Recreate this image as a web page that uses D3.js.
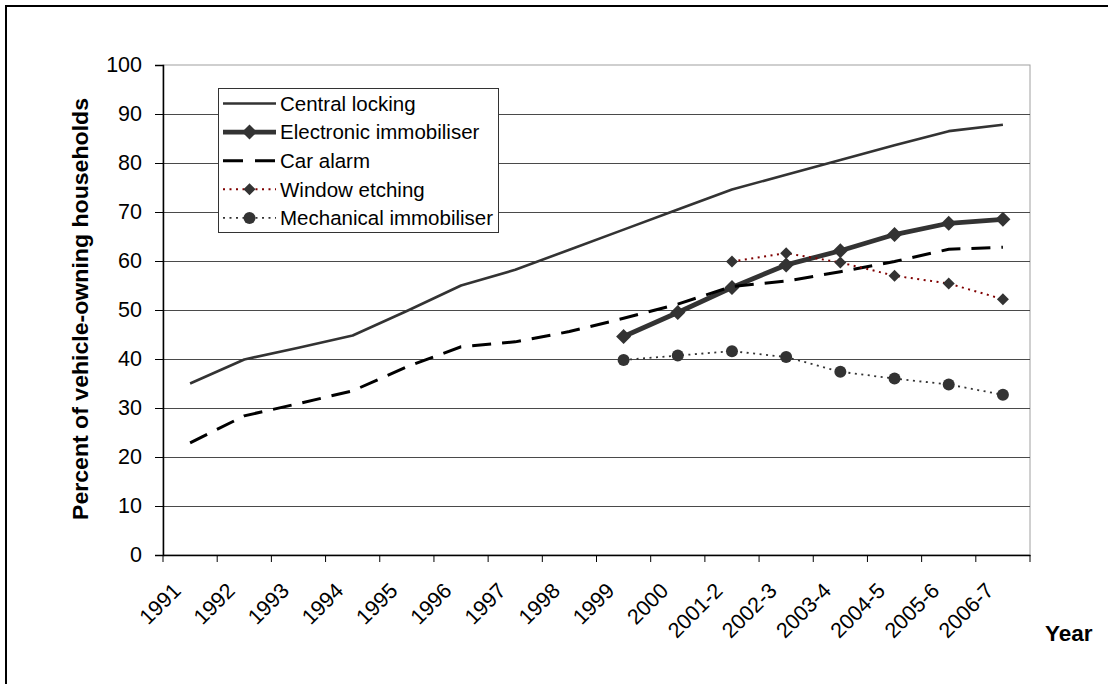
<!DOCTYPE html>
<html>
<head>
<meta charset="utf-8">
<script src="https://cdn.jsdelivr.net/npm/d3@7"></script>
<style>
  html, body { margin: 0; padding: 0; background: #fff; }
  svg { display: block; }
  text { font-family: Arial, "Liberation Sans", sans-serif; }
</style>
</head>
<body>
<svg id="chart" width="1108" height="684"></svg>
<script>
const categories = ["1991","1992","1993","1994","1995","1996","1997","1998","1999","2000",
                    "2001-2","2002-3","2003-4","2004-5","2005-6","2006-7"];
const centralLocking = [35.0, 39.9, 42.3, 44.8, 49.8, 55.0, 58.2, 62.3, 66.4, 70.5, 74.6, 77.6, 80.6, 83.6, 86.5, 87.8];
const electronicImmobiliser = [null, null, null, null, null, null, null, null, 44.6, 49.5, 54.6, 59.2, 62.1, 65.4, 67.7, 68.5];
const carAlarm = [22.9, 28.4, 30.9, 33.5, 38.4, 42.5, 43.5, 45.6, 48.3, 51.2, 54.8, 55.9, 57.8, 59.9, 62.4, 62.8];
const windowEtching = [null, null, null, null, null, null, null, null, null, null, 59.9, 61.6, 59.7, 57.0, 55.4, 52.2];
const mechanicalImmobiliser = [null, null, null, null, null, null, null, null, 39.8, 40.7, 41.6, 40.4, 37.4, 36.0, 34.8, 32.7];
const yTicks = [0, 10, 20, 30, 40, 50, 60, 70, 80, 90, 100];
const seriesNames = ["Central locking", "Electronic immobiliser", "Car alarm", "Window etching", "Mechanical immobiliser"];

const svg = d3.select("#chart");
const L = 163, R = 1030, T = 65, B = 555;

// outer border (cropped on right/bottom)
svg.append("rect").attr("x", 6).attr("y", 6).attr("width", 1120).attr("height", 700)
  .attr("fill", "none").attr("stroke", "#000").attr("stroke-width", 2);

const x = d3.scaleBand().domain(categories).range([L, R]).padding(0);
const y = d3.scaleLinear().domain([0, 100]).range([B, T]);
const cx = c => x(c) + x.bandwidth() / 2;

// plot area border (top/right gray)
svg.append("rect").attr("x", L).attr("y", T).attr("width", R - L).attr("height", B - T)
  .attr("fill", "none").attr("stroke", "#a0a0a0").attr("stroke-width", 1);

// gridlines
svg.append("g").selectAll("line").data(yTicks.filter(t => t > 0 && t < 100)).join("line")
  .attr("x1", L).attr("x2", R)
  .attr("y1", d => Math.round(y(d)) + 0.5).attr("y2", d => Math.round(y(d)) + 0.5)
  .attr("stroke", "#4a4a4a").attr("stroke-width", 1);

// y axis
const yAxis = svg.append("g").attr("transform", `translate(${L},0)`)
  .call(d3.axisLeft(y).tickValues(yTicks).tickSize(8).tickPadding(13).tickFormat(d3.format("d")));
yAxis.select(".domain").attr("stroke", "#000").attr("stroke-width", 1.5);
yAxis.selectAll(".tick line").attr("stroke", "#000");
yAxis.selectAll(".tick text").attr("font-size", 21.5).attr("fill", "#000")
  .attr("font-family", 'Arial, "Liberation Sans", sans-serif');

// x axis
const xAxis = svg.append("g").attr("transform", `translate(0,${B})`)
  .call(d3.axisBottom(x).tickSize(0).tickFormat(""));
xAxis.select(".domain").attr("stroke", "#000").attr("stroke-width", 1.5);
xAxis.selectAll(".tick").remove();
// boundary ticks
const bounds = categories.map(c => x(c)).concat([R]);
svg.append("g").selectAll("line").data(bounds).join("line")
  .attr("x1", d => d).attr("x2", d => d).attr("y1", B).attr("y2", B + 7)
  .attr("stroke", "#000").attr("stroke-width", 1);
// labels
svg.append("g").selectAll("text").data(categories).join("text")
  .attr("transform", d => `translate(${cx(d) - 8},${B + 37}) rotate(-45)`)
  .attr("text-anchor", "end").attr("font-size", 21.5).attr("fill", "#000")
  .text(d => d);

// axis titles
svg.append("text").attr("transform", `translate(88,309) rotate(-90)`)
  .attr("text-anchor", "middle").attr("font-size", 22).attr("font-weight", "bold")
  .attr("textLength", 422).attr("lengthAdjust", "spacingAndGlyphs")
  .text("Percent of vehicle-owning households");
svg.append("text").attr("x", 1045).attr("y", 641).attr("font-size", 22.5).attr("font-weight", "bold")
  .text("Year");

const line = d3.line().defined(d => d.v != null).x(d => cx(d.c)).y(d => y(d.v));
const toPts = arr => categories.map((c, i) => ({ c, v: arr[i] }));
const diamond = (s) => `M0,${-s}L${s},0L0,${s}L${-s},0Z`;

const g = svg.append("g");
// Central locking
g.append("path").datum(toPts(centralLocking)).attr("d", line)
  .attr("fill", "none").attr("stroke", "#333").attr("stroke-width", 2.6).attr("stroke-linejoin", "round");
// Electronic immobiliser
g.append("path").datum(toPts(electronicImmobiliser)).attr("d", line)
  .attr("fill", "none").attr("stroke", "#333").attr("stroke-width", 4.8).attr("stroke-linejoin", "round");
g.append("g").selectAll("path").data(toPts(electronicImmobiliser).filter(d => d.v != null)).join("path")
  .attr("transform", d => `translate(${cx(d.c)},${y(d.v)})`).attr("d", diamond(7.5)).attr("fill", "#333");
// Car alarm
g.append("path").datum(toPts(carAlarm)).attr("d", line)
  .attr("fill", "none").attr("stroke", "#000").attr("stroke-width", 3).attr("stroke-dasharray", "19,11");
// Window etching
g.append("path").datum(toPts(windowEtching)).attr("d", line)
  .attr("fill", "none").attr("stroke", "#800000").attr("stroke-width", 2).attr("stroke-dasharray", "2,4.5");
g.append("g").selectAll("path").data(toPts(windowEtching).filter(d => d.v != null)).join("path")
  .attr("transform", d => `translate(${cx(d.c)},${y(d.v)})`).attr("d", diamond(6)).attr("fill", "#333");
// Mechanical immobiliser
g.append("path").datum(toPts(mechanicalImmobiliser)).attr("d", line)
  .attr("fill", "none").attr("stroke", "#333").attr("stroke-width", 1.8).attr("stroke-dasharray", "2,4.5");
g.append("g").selectAll("circle").data(toPts(mechanicalImmobiliser).filter(d => d.v != null)).join("circle")
  .attr("cx", d => cx(d.c)).attr("cy", d => y(d.v)).attr("r", 6).attr("fill", "#333");

// Legend
const lg = svg.append("g");
lg.append("rect").attr("x", 218.5).attr("y", 88.5).attr("width", 280).attr("height", 144)
  .attr("fill", "#fff").attr("stroke", "#333").attr("stroke-width", 1);
const rowY = i => 103.5 + i * 28.6;
const sx1 = 223, sx2 = 276, smid = 249.5;
seriesNames.forEach((name, i) => {
  const yy = rowY(i);
  const ln = lg.append("line").attr("x1", sx1).attr("x2", sx2).attr("y1", yy).attr("y2", yy).attr("fill", "none");
  if (i === 0) ln.attr("stroke", "#333").attr("stroke-width", 2.6);
  if (i === 1) {
    ln.attr("stroke", "#333").attr("stroke-width", 4.8);
    lg.append("path").attr("transform", `translate(${smid},${yy})`).attr("d", diamond(7.5)).attr("fill", "#333");
  }
  if (i === 2) ln.attr("stroke", "#000").attr("stroke-width", 3).attr("stroke-dasharray", "20,12");
  if (i === 3) {
    ln.attr("stroke", "#800000").attr("stroke-width", 2).attr("stroke-dasharray", "2,4.5");
    lg.append("path").attr("transform", `translate(${smid},${yy})`).attr("d", diamond(6)).attr("fill", "#333");
  }
  if (i === 4) {
    ln.attr("stroke", "#333").attr("stroke-width", 1.8).attr("stroke-dasharray", "2,4.5");
    lg.append("circle").attr("cx", smid).attr("cy", yy).attr("r", 6).attr("fill", "#333");
  }
  lg.append("text").attr("x", 280).attr("y", yy).attr("dy", "0.36em")
    .attr("font-size", 20.5).attr("fill", "#000").text(name);
});
</script>
</body>
</html>
